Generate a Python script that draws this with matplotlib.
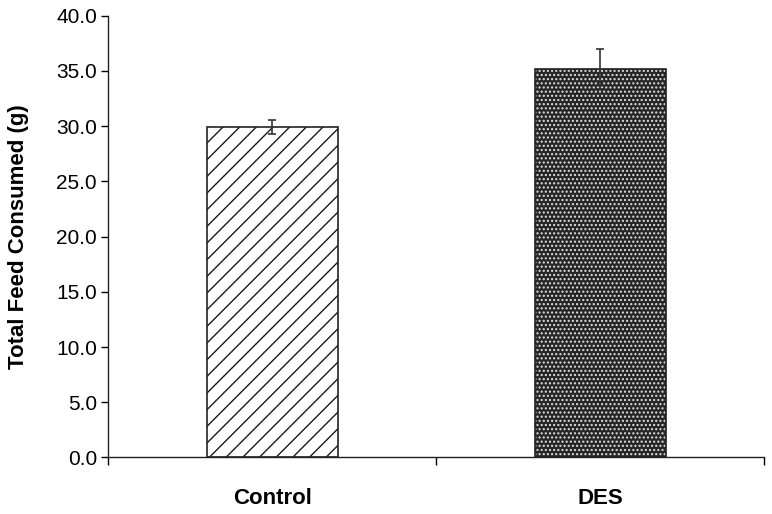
import matplotlib.pyplot as plt

groups = ["Control", "DES"]
feed = [29.9, 35.2]
feed_err = [0.65, 1.8]

plt.rcParams["font.family"] = ["Liberation Sans", "DejaVu Sans"]
plt.rcParams["hatch.linewidth"] = 1.0

fig = plt.figure(figsize=(7.72, 5.14), dpi=100)
ax = fig.add_axes([0.140, 0.110, 0.850, 0.8595])

x = [0, 1]
w = 0.40

# control: diagonal hatch
ax.bar(x[0], feed[0], width=w, color="white", edgecolor="#1a1a1a", hatch="//", linewidth=0)
# DES: dark fill with light dots
ax.bar(x[1], feed[1], width=w, color="#262626", edgecolor="#e0e0e0", hatch="....", linewidth=0)
# outlines
ax.bar(x, feed, width=w, fill=False, edgecolor="#222222", linewidth=1.2)

ax.errorbar(x, feed, yerr=feed_err, fmt="none", ecolor="#333333",
            elinewidth=1.2, capsize=3.2, capthick=1.2)

ax.set_xlim(-0.5, 1.5)
ax.set_ylim(0, 40)
ax.set_yticks([0, 5, 10, 15, 20, 25, 30, 35, 40])
ax.set_yticklabels([f"{v:.1f}" for v in range(0, 45, 5)])

ax.set_xticks([-0.5, 0.5, 1.5])
ax.set_xticklabels([])
ax.set_xticks(x, minor=True)
ax.set_xticklabels(groups, minor=True, fontsize=16, fontweight="bold")
ax.tick_params(axis="x", which="minor", length=0, pad=22)
ax.tick_params(axis="x", which="major", length=6, width=1, direction="out")
ax.tick_params(axis="y", length=5, width=1, direction="out", labelsize=15, pad=3)

for s in ["top", "right"]:
    ax.spines[s].set_visible(False)
for s in ["left", "bottom"]:
    ax.spines[s].set_linewidth(1.0)
    ax.spines[s].set_color("#222222")

ax.set_ylabel("Total Feed Consumed (g)", fontsize=16, fontweight="bold", labelpad=10)
ax.yaxis.set_label_coords(-0.12, 0.5)

fig.savefig("out.png", dpi=100)
